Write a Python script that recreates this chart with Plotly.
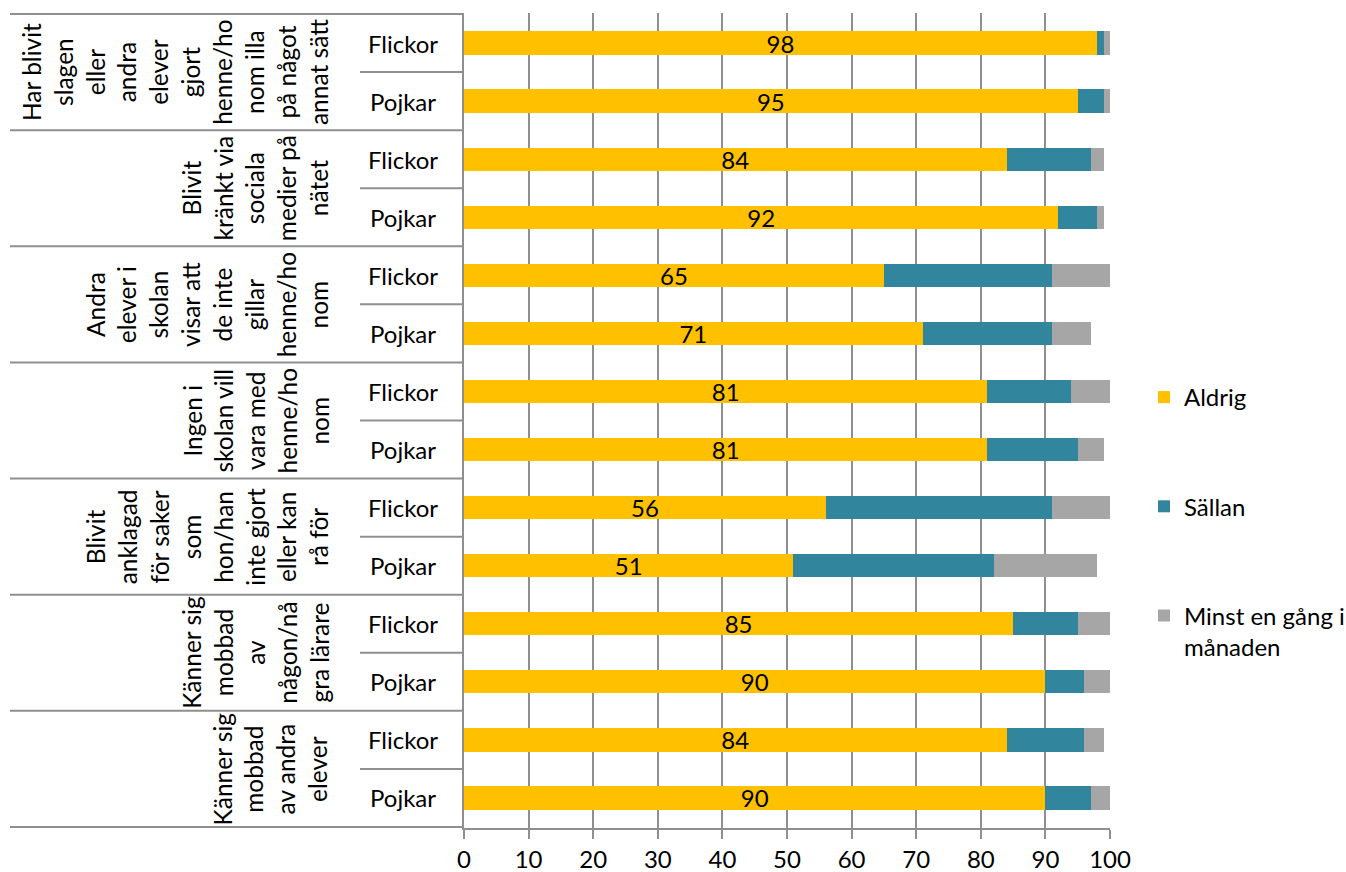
import plotly.graph_objects as go

# ---------------- data ----------------
groups = [
    "Har blivit<br>slagen<br>eller<br>andra<br>elever<br>gjort<br>henne/ho<br>nom illa<br>på något<br>annat sätt",
    "Blivit<br>kränkt via<br>sociala<br>medier på<br>nätet",
    "Andra<br>elever i<br>skolan<br>visar att<br>de inte<br>gillar<br>henne/ho<br>nom",
    "Ingen i<br>skolan vill<br>vara med<br>henne/ho<br>nom",
    "Blivit<br>anklagad<br>för saker<br>som<br>hon/han<br>inte gjort<br>eller kan<br>rå för",
    "Känner sig<br>mobbad<br>av<br>någon/nå<br>gra lärare",
    "Känner sig<br>mobbad<br>av andra<br>elever",
]
genders = ["Flickor", "Pojkar"]

aldrig = [98, 95, 84, 92, 65, 71, 81, 81, 56, 51, 85, 90, 84, 90]
sallan = [1, 4, 13, 6, 26, 20, 13, 14, 35, 31, 10, 6, 12, 7]
minst = [1, 1, 2, 1, 9, 6, 6, 4, 9, 16, 5, 4, 3, 3]

series_names = ["Aldrig", "Sällan", "Minst en gång i<br>månaden"]
colors = ["#FFC000", "#31859C", "#A6A6A6"]
x_ticks = list(range(0, 101, 10))

# ---------------- layout constants ----------------
W, H = 1346, 872
ML, MR, MT, MB = 464, 236, 13, 44
PW = W - ML - MR
PH = H - MT - MB
FONT = "Lato"
FS = 24
GRID = "#8f8f8f"


def px_to_paper_x(px):
    return (px - ML) / PW


def px_to_paper_y(py):
    return (H - MB - py) / PH


rows = []
row_labels = []
for g_i, g in enumerate(groups):
    for s in genders:
        rows.append(f"{g_i}|{s}")
        row_labels.append(s)

fig = go.Figure()
values = [aldrig, sallan, minst]
for i, (name, col, vals) in enumerate(zip(series_names, colors, values)):
    fig.add_trace(go.Bar(
        y=rows, x=vals, orientation="h", name=name,
        marker=dict(color=col, line=dict(width=0)),
        legendgroup=f"g{i}",
        text=[str(v) for v in vals] if i == 0 else None,
        textposition="inside" if i == 0 else "none",
        insidetextanchor="middle",
        textangle=0,
        constraintext="none",
        textfont=dict(family=FONT, size=FS, color="#000000"),
        hoverinfo="x+y",
    ))

annotations = []
# sub-category labels (Flickor / Pojkar)
for r, lab in zip(rows, row_labels):
    annotations.append(dict(
        x=px_to_paper_x(403), xref="paper", y=r, yref="y",
        text=lab, showarrow=False, xanchor="center", yanchor="middle",
        font=dict(family=FONT, size=FS, color="#000000"),
    ))
# group labels, rotated
for g_i, g in enumerate(groups):
    annotations.append(dict(
        x=px_to_paper_x(335), xref="paper", y=2 * g_i + 0.5, yref="y",
        text=g, showarrow=False, textangle=-90, align="center",
        xanchor="right", yanchor="middle",
        font=dict(family=FONT, size=24.5, color="#000000"),
    ))

shapes = []
n = len(rows)
for k in range(0, n + 1):
    yv = k - 0.5
    if k % 2 == 1:
        x0 = px_to_paper_x(360)
    else:
        x0 = px_to_paper_x(10)
    shapes.append(dict(
        type="line", xref="paper", yref="y", x0=x0, x1=0, y0=yv, y1=yv,
        line=dict(color=GRID, width=2), layer="above",
    ))

fig.update_layout(
    width=W, height=H,
    margin=dict(l=ML, r=MR, t=MT, b=MB, pad=0, autoexpand=False),
    paper_bgcolor="white", plot_bgcolor="white",
    barmode="stack", bargap=0.6,
    font=dict(family=FONT, size=FS, color="#000000"),
    showlegend=True,
    legend=dict(
        x=px_to_paper_x(1144), xanchor="left",
        y=px_to_paper_y(375), yanchor="top",
        traceorder="grouped", tracegroupgap=75, valign="top",
        font=dict(family=FONT, size=FS, color="#000000"),
        bgcolor="rgba(0,0,0,0)",
    ),
    annotations=annotations,
    shapes=shapes,
)
fig.update_xaxes(
    range=[0, 100], tickvals=x_ticks, ticktext=[str(t) for t in x_ticks],
    showgrid=True, gridcolor=GRID, gridwidth=2, zeroline=False,
    showline=True, linecolor=GRID, linewidth=2,
    ticks="outside", ticklen=9, tickwidth=2, tickcolor=GRID,
    tickfont=dict(family=FONT, size=FS, color="#000000"),
    fixedrange=True,
)
fig.update_yaxes(
    type="category", categoryorder="array", categoryarray=rows,
    autorange="reversed", showticklabels=False, showgrid=False,
    showline=True, linecolor=GRID, linewidth=2, ticks="", zeroline=False,
    fixedrange=True,
)

fig.write_html(
    "out.html",
    config={"displayModeBar": False},
    post_script="document.body.style.margin='0px';document.body.style.overflow='hidden';",
)
